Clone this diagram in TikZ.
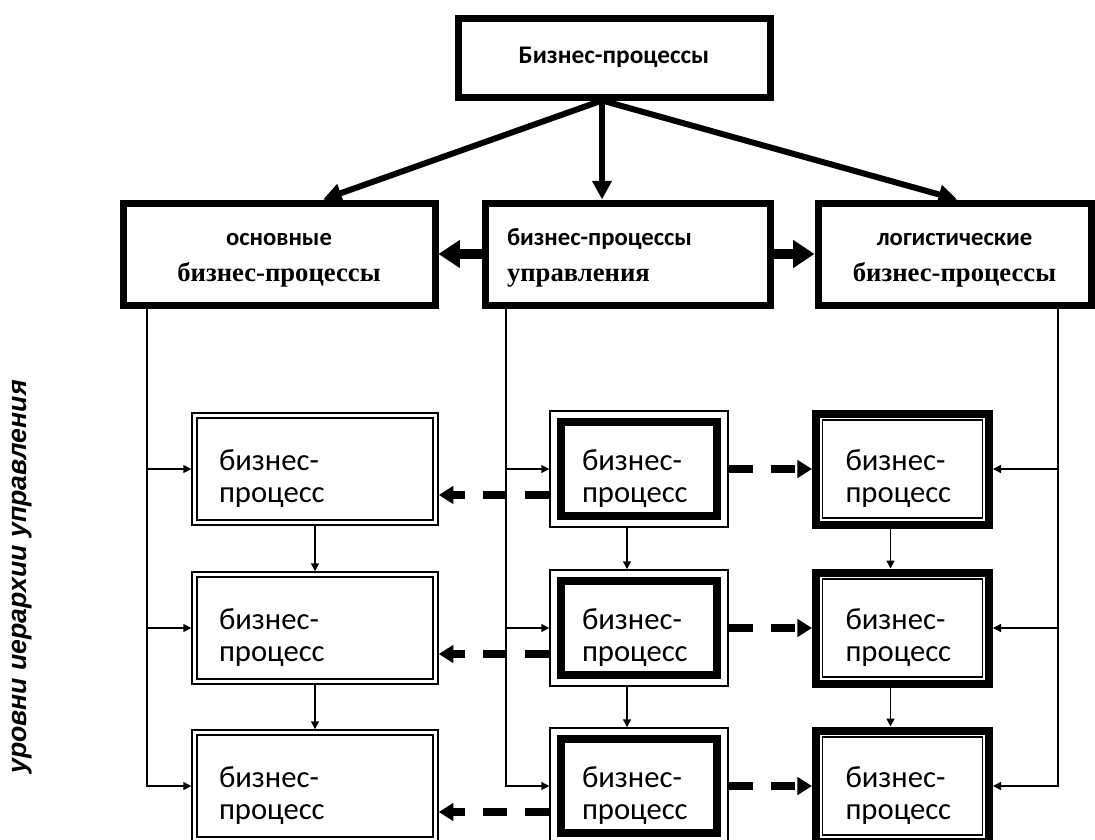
\documentclass[tikz,border=0pt]{standalone}
\usepackage{fontspec}
\setmainfont{Carlito}
\newfontfamily\tnrfont{Liberation Serif}
\newfontfamily\arlfont{Liberation Sans}
\usetikzlibrary{arrows.meta}
\tikzset{
  topbox/.style={draw, line width=5.25pt, minimum width=234pt, minimum height=59.25pt, inner sep=0pt, font=\fontsize{19}{23}\selectfont\bfseries},
  kindbox/.style={draw, line width=5.25pt, minimum height=76.5pt, inner sep=0pt, text height=10pt, text depth=23.5pt, font=\fontsize{18.5}{27}\selectfont\bfseries},
  procbox/.style={draw, inner sep=0pt, align=left, text height=16pt, text depth=14.5pt, font=\fontsize{23}{24}\selectfont},
  framein/.style 2 args={path picture={\draw[line width=#1] ([shift={(#2,-#2)}]path picture bounding box.north west) rectangle ([shift={(-#2,#2)}]path picture bounding box.south east);}},
  procA/.style={procbox, line width=1.1pt, framein={1.1pt}{3.75pt}, minimum width=184.5pt, minimum height=84pt, text width=144pt},
  procB/.style={procbox, line width=1.1pt, framein={6pt}{8.6pt}, minimum width=133.5pt, minimum height=87pt, text width=85.5pt},
  procC/.style={procbox, line width=6pt, framein={1.1pt}{4.9pt}, minimum width=129.75pt, minimum height=83.25pt, text width=85.5pt},
  feed/.style={line width=1.1pt, -{Triangle[length=6pt,width=6pt]}},
  main/.style={line width=4.5pt, -{Triangle[length=14pt,width=14pt]}},
  side/.style={line width=7.5pt, -{Triangle[length=16pt,width=20pt]}},
  link/.style={line width=6pt, dash pattern=on 18pt off 13.5pt, -{Triangle[length=11pt,width=13pt]}},
}
\begin{document}
\begin{tikzpicture}[x=0.75pt, y=-0.75pt]
\useasboundingbox (0,0) rectangle (1095,839);%
\clip (0,0) rectangle (1095,839);%

% Drawing the upper level
\node[topbox] (bp) at (614,57.5) {Бизнес-процессы};%
\node[kindbox, minimum width=234pt, text width=200pt, align=center] (osn) at (279,254) {основные\\{\tnrfont\fontsize{20}{27}\selectfont бизнес-процессы}};%
\node[kindbox, minimum width=213.75pt, text width=180.75pt, align=left] (upr) at (627.5,254) {бизнес-процессы\\{\tnrfont\fontsize{20}{27}\selectfont управления}};%
\node[kindbox, minimum width=204.75pt, text width=180pt, align=center] (log) at (954.5,254) {логистические\\{\tnrfont\fontsize{20}{27}\selectfont бизнес-процессы}};%

\coordinate (fork) at ([xshift=-9pt]bp.south);%
\draw[main] (fork) -- ([xshift=33pt]osn.north);%
\draw[main] (fork) -- (fork |- upr.north);%
\draw[main] (fork) -- ([xshift=2pt]log.north);%
\draw[side] (upr.west) -- (osn.east);%
\draw[side] (upr.east) -- (log.west);%

% Drawing the process levels
\node[procA] (l1) at (315,469) {бизнес-\\процесс};%
\node[procA] (l2) at (315,628) {бизнес-\\процесс};%
\node[procA] (l3) at (315,786) {бизнес-\\процесс};%
\node[procB] (m1) at (639,469) {бизнес-\\процесс};%
\node[procB] (m2) at (639,628) {бизнес-\\процесс};%
\node[procB] (m3) at (639,786) {бизнес-\\процесс};%
\node[procC] (r1) at (902.5,469) {бизнес-\\процесс};%
\node[procC] (r2) at (902.5,628) {бизнес-\\процесс};%
\node[procC] (r3) at (902.5,786) {бизнес-\\процесс};%

% Feeding lines
\coordinate (lbus) at (147,0);%
\coordinate (mbus) at (506,0);%
\coordinate (rbus) at (1058,0);%
\draw[feed] (lbus |- osn.south) |- (l3.west);%
\draw[feed] (lbus |- l1.west) -- (l1.west);%
\draw[feed] (lbus |- l2.west) -- (l2.west);%
\draw[feed] (mbus |- upr.south) |- (m3.west);%
\draw[feed] (mbus |- m1.west) -- (m1.west);%
\draw[feed] (mbus |- m2.west) -- (m2.west);%
\draw[feed] (rbus |- log.south) |- (r3.east);%
\draw[feed] (rbus |- r1.east) -- (r1.east);%
\draw[feed] (rbus |- r2.east) -- (r2.east);%

\draw[feed] (l1.south) -- (l2.north);%
\draw[feed] (l2.south) -- (l3.north);%
\draw[feed] ([xshift=-9pt]m1.south) -- ([xshift=-9pt]m2.north);%
\draw[feed] ([xshift=-9pt]m2.south) -- ([xshift=-9pt]m3.north);%
\draw[feed] ([xshift=-9pt]r1.south) -- ([xshift=-9pt]r2.north);%
\draw[feed] ([xshift=-9pt]r2.south) -- ([xshift=-9pt]r3.north);%

% Dashed links between the columns
\draw[link] (m1.east) -- (r1.west);%
\draw[link] (m2.east) -- (r2.west);%
\draw[link] (m3.east) -- (r3.west);%
\draw[link] ([yshift=-19.5pt]m1.west) -- ([yshift=-19.5pt]l1.east);%
\draw[link] ([yshift=-19.5pt]m2.west) -- ([yshift=-19.5pt]l2.east);%
\draw[link] ([yshift=-19.5pt]m3.west) -- ([yshift=-19.5pt]l3.east);%

\node[rotate=90, font=\arlfont\bfseries\itshape\fontsize{20}{24}\selectfont] (lvl) at (22,577) {уровни иерархии управления};%
\end{tikzpicture}
\end{document}
